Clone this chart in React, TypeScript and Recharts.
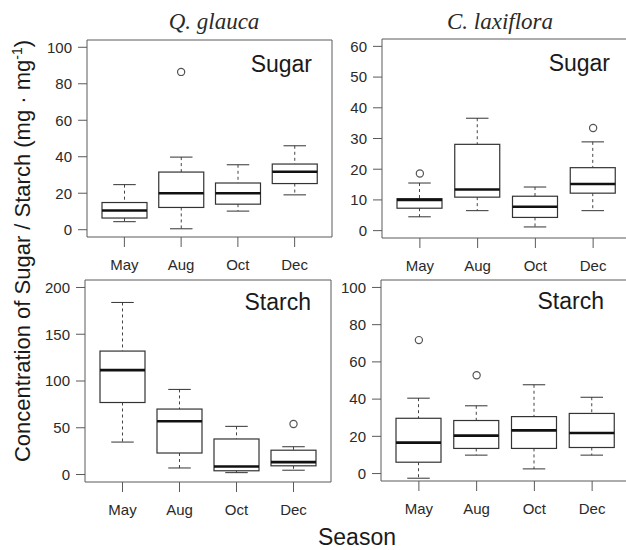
import React from "react";
import { ComposedChart, Bar, Scatter, XAxis, YAxis } from "recharts";

const seasons = ["May", "Aug", "Oct", "Dec"];

// per season: [whisker low, q1, median, q3, whisker high]
const glaucaSugar = [
  [4.4, 6.4, 10.5, 14.9, 24.7],
  [0.5, 12.2, 20, 31.6, 39.8],
  [10.2, 14, 20, 25.6, 35.6],
  [19.1, 25.3, 31.8, 36, 46],
];
const glaucaSugarOut = [null, 86.5, null, null];

const laxifloraSugar = [
  [4.5, 7.3, 10, 10.4, 15.5],
  [6.5, 10.9, 13.4, 28.1, 36.6],
  [1.2, 4.3, 7.8, 11.2, 14.2],
  [6.5, 12.2, 15.2, 20.5, 28.9],
];
const laxifloraSugarOut = [18.6, null, null, 33.4];

const glaucaStarch = [
  [34.7, 77, 111.6, 132, 184],
  [7, 23, 57, 70, 91],
  [2, 4, 8.6, 38, 51.5],
  [4.6, 9.3, 13.2, 26, 29.7],
];
const glaucaStarchOut = [null, null, null, 54];

const laxifloraStarch = [
  [-2.5, 6.1, 16.6, 29.7, 40.5],
  [9.9, 13.5, 20.4, 28.5, 36.4],
  [2.5, 13.5, 23.2, 30.6, 47.7],
  [9.9, 14, 21.8, 32.3, 41],
];
const laxifloraStarchOut = [71.7, 52.8, null, null];

const ticks100 = [0, 20, 40, 60, 80, 100];
const ticks60 = [0, 10, 20, 30, 40, 50, 60];
const ticks200 = [0, 50, 100, 150, 200];

const FRAME = "#5a5a5a";
const INK = "#2a2a2a";
const SANS = "'Liberation Sans', Arial, Helvetica, sans-serif";

function BoxShape(props: any) {
  const { x, y, width, height, payload } = props;
  const top = Math.min(y, y + height);
  const bot = Math.max(y, y + height);
  const { lo, q1, med, q3, hi } = payload;
  const py = (v: number) => bot - ((v - lo) / (hi - lo)) * (bot - top);
  const cx = x + width / 2;
  const cap = width / 4;
  return (
    <g>
      <line x1={cx} x2={cx} y1={py(hi)} y2={py(q3)} stroke="#444" strokeDasharray="3 3" />
      <line x1={cx} x2={cx} y1={py(q1)} y2={py(lo)} stroke="#444" strokeDasharray="3 3" />
      <line x1={cx - cap} x2={cx + cap} y1={py(hi)} y2={py(hi)} stroke="#333" />
      <line x1={cx - cap} x2={cx + cap} y1={py(lo)} y2={py(lo)} stroke="#333" />
      <rect x={x} y={py(q3)} width={width} height={py(q1) - py(q3)} fill="#fff" stroke="#333" strokeWidth={1.2} />
      <line x1={x} x2={x + width} y1={py(med)} y2={py(med)} stroke="#111" strokeWidth={2.6} />
    </g>
  );
}

function OutShape(props: any) {
  const { cx, cy, payload } = props;
  if (payload == null || payload.out == null) return <g />;
  return <circle cx={cx} cy={cy} r={3.6} fill="none" stroke="#555" strokeWidth={1.2} />;
}

function Panel({
  stats,
  outliers,
  ticks,
  domain,
  left,
  top,
  w,
  h,
}: {
  stats: number[][];
  outliers: (number | null)[];
  ticks: number[];
  domain: [number, number];
  left: number;
  top: number;
  w: number;
  h: number;
}) {
  const data = seasons.map((s, i) => ({
    season: s,
    lo: stats[i][0],
    q1: stats[i][1],
    med: stats[i][2],
    q3: stats[i][3],
    hi: stats[i][4],
    out: outliers[i],
  }));
  const pad = Math.round(w * 0.037);
  return (
    <div style={{ position: "absolute", left: left - 60, top: top - 10 }}>
      <ComposedChart
        width={60 + w + 1 + 10}
        height={10 + h + 45}
        data={data}
        margin={{ top: 9, right: 10, bottom: 0, left: 0 }}
      >
        <XAxis
          dataKey="season"
          padding={{ left: pad, right: pad }}
          height={45}
          tickSize={10}
          tickMargin={12}
          axisLine={{ stroke: FRAME }}
          tickLine={{ stroke: FRAME }}
          tick={{ fill: INK, fontSize: 15, fontFamily: SANS }}
          interval={0}
        />
        <XAxis
          xAxisId="top"
          orientation="top"
          dataKey="season"
          height={1}
          tick={false}
          tickLine={false}
          axisLine={{ stroke: FRAME }}
        />
        <YAxis
          type="number"
          domain={domain}
          ticks={ticks}
          allowDataOverflow
          width={60}
          tickSize={9}
          tickMargin={6}
          axisLine={{ stroke: FRAME }}
          tickLine={{ stroke: FRAME }}
          tick={{ fill: INK, fontSize: 15, fontFamily: SANS }}
          interval={0}
        />
        <YAxis
          yAxisId="right"
          orientation="right"
          type="number"
          domain={domain}
          width={1}
          tick={false}
          tickLine={false}
          axisLine={{ stroke: FRAME }}
        />
        <Bar
          dataKey={(d: any) => [d.lo, d.hi]}
          barSize={45}
          shape={<BoxShape />}
          isAnimationActive={false}
        />
        <Scatter dataKey="out" shape={<OutShape />} isAnimationActive={false} />
      </ComposedChart>
    </div>
  );
}

export default function App() {
  return (
    <div
      style={{
        position: "absolute",
        left: 0,
        top: 0,
        width: 626,
        height: 550,
        overflow: "hidden",
        background: "#fff",
      }}
    >
      <Panel stats={glaucaSugar} outliers={glaucaSugarOut} ticks={ticks100} domain={[-4, 104]} left={87} top={40} w={245} h={197} />
      <Panel stats={laxifloraSugar} outliers={laxifloraSugarOut} ticks={ticks60} domain={[-2.4, 62.4]} left={382} top={39} w={249} h={199} />
      <Panel stats={glaucaStarch} outliers={glaucaStarchOut} ticks={ticks200} domain={[-8, 208]} left={85} top={280} w={246} h={202} />
      <Panel stats={laxifloraStarch} outliers={laxifloraStarchOut} ticks={ticks100} domain={[-4, 104]} left={381} top={280} w={249} h={201} />
      <svg
        width={626}
        height={550}
        style={{ position: "absolute", left: 0, top: 0, pointerEvents: "none" }}
      >
        <g fontFamily="'Liberation Serif', 'Times New Roman', serif" fontStyle="italic" fontSize={23} fill={INK}>
          <text x={214} y={29} textAnchor="middle">Q. glauca</text>
          <text x={500} y={29} textAnchor="middle">C. laxiflora</text>
        </g>
        <g fontFamily={SANS} fontSize={23} fill="#1a1a1a">
          <text x={312} y={72} textAnchor="end">Sugar</text>
          <text x={610} y={71} textAnchor="end">Sugar</text>
          <text x={311} y={310} textAnchor="end">Starch</text>
          <text x={604} y={309} textAnchor="end">Starch</text>
        </g>
        <text x={357} y={545} textAnchor="middle" fontFamily={SANS} fontSize={23} fill="#1a1a1a">
          Season
        </text>
        <text
          transform="translate(30 251) rotate(-90)"
          textAnchor="middle"
          fontFamily={SANS}
          fontSize={22}
          fill="#1a1a1a"
        >
          Concentration of Sugar / Starch (mg · mg
          <tspan fontSize={14} dy={-8}>-1</tspan>
          <tspan dy={8}>)</tspan>
        </text>
      </svg>
    </div>
  );
}
